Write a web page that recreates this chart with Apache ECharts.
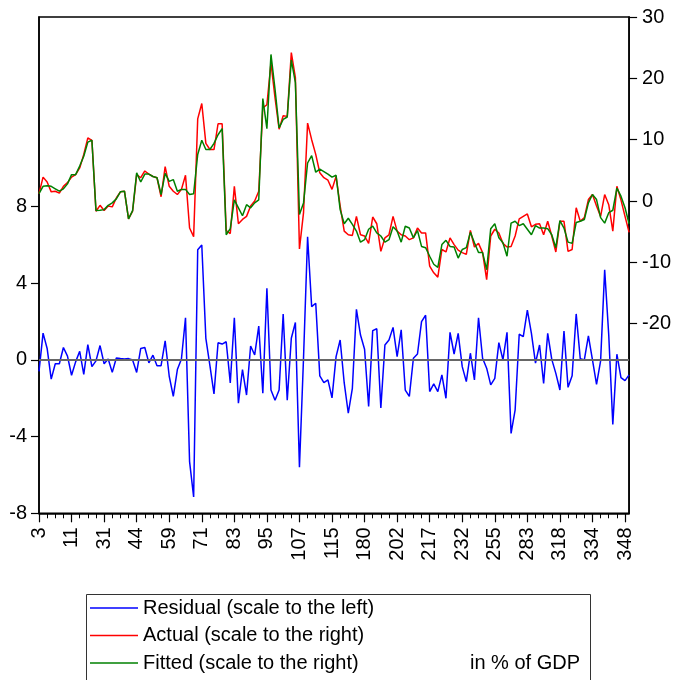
<!DOCTYPE html>
<html>
<head>
<meta charset="utf-8">
<script src="https://cdn.jsdelivr.net/npm/echarts@6/dist/echarts.min.js"></script>
<style>html,body{margin:0;padding:0;background:#fff}#c{width:674px;height:680px}</style>
</head>
<body>
<div id="c"></div>
<script>
const tickLabels = ['3','11','31','44','59','71','83','95','107','115','180','202','217','232','255','283','318','334','348'];

const residual = [
-0.6,1.4,0.6,-1.0,-0.2,-0.2,0.65,0.2,-0.8,-0.1,
0.45,-0.75,0.8,-0.35,-0.05,0.75,-0.2,0.05,-0.65,0.1,
0.07,0.05,0.07,0,-0.65,0.6,0.65,-0.15,0.25,-0.3,
-0.3,1.0,-0.85,-1.9,-0.5,0.05,2.2,-5.3,-7.15,5.75,
6.0,1.13,-0.3,-1.77,0.9,0.83,0.95,-1.2,2.2,-2.26,
-0.5,-1.83,0.73,0.26,1.77,-1.74,3.74,-1.57,-2.1,-1.57,
2.4,-2.1,1.13,1.95,-5.6,0.1,6.43,2.78,2.96,-0.83,
-1.18,-1.04,-1.98,0.17,1.04,-1.2,-2.78,-1.48,2.64,1.3,
0.56,-2.43,1.53,1.63,-2.5,0.78,1.04,1.7,0.17,1.57,
-1.57,-1.9,0.09,0.31,2.0,2.33,-1.65,-1.25,-1.65,-0.78,
-2.0,1.44,0.31,1.39,-0.35,-1.13,0.35,-1.04,2.2,0.09,
-0.43,-1.3,-0.96,0.9,0,1.44,-3.83,-2.6,1.34,1.22,
2.6,1.39,-0.17,0.78,-1.22,1.39,0.03,-0.7,-1.57,1.51,
-1.43,-0.83,2.4,0.07,0,1.25,0,-1.27,-0.05,4.7,
1.3,-3.36,0.3,-0.92,-1.08,-0.78
];

const actual = [
1.2,3.9,3.1,1.5,1.6,1.3,2.4,3.0,3.9,4.3,
5.4,7.6,10.3,9.9,-1.66,-0.7,-1.55,-0.8,-0.95,0.5,
1.5,1.6,-2.9,-1.66,4.3,3.8,4.9,4.4,4.0,3.8,
0.7,5.6,2.4,1.6,1.06,1.9,4.2,-4.4,-5.8,13.4,
15.9,9.4,8.4,8.4,12.6,12.6,-4.8,-5.3,2.4,-3.7,
-3.0,-2.5,-0.8,0,1.6,15.2,15.7,22.5,16.8,11.7,
13.9,13.8,24.2,20.1,-7.8,-1.9,12.7,10.0,7.6,4.6,
3.8,3.4,1.9,4.0,-0.8,-4.9,-5.5,-5.6,-2.5,-5.5,
-5.7,-6.9,-2.6,-3.7,-8.2,-6.0,-5.5,-2.5,-4.9,-5.5,
-5.7,-6.3,-6.0,-4.4,-5.2,-5.2,-10.6,-11.7,-12.4,-7.9,
-8.3,-6.0,-7.1,-8.0,-8.4,-8.7,-4.8,-7.5,-6.9,-8.4,
-12.8,-5.7,-4.6,-5.2,-6.9,-7.5,-7.4,-5.7,-2.9,-2.5,
-2.1,-4.2,-3.8,-3.7,-5.5,-3.3,-5.7,-8.3,-3.3,-3.3,
-8.2,-7.9,-1.1,-3.3,-2.7,0.24,1.06,-0.8,-2.5,1.06,
-0.6,-4.9,2.4,0.2,-2.5,-5.1
];

const fitted = [
1.2,2.4,2.5,2.4,2.0,1.6,2.0,2.8,4.3,4.3,
5.7,7.3,9.6,9.9,-1.55,-1.5,-1.4,-0.7,-0.3,0.35,
1.5,1.6,-2.9,-1.55,4.6,3.1,4.4,4.4,4.0,3.8,
1.06,4.5,3.2,3.5,1.6,1.9,1.9,1.06,1.2,7.6,
9.9,8.4,8.4,9.4,10.8,11.8,-5.5,-4.5,0.2,-1.1,
-2.4,-0.6,-1.1,-0.3,0.2,16.7,11.8,23.9,18.2,11.9,
13.3,13.7,23.0,19.3,-2.2,-0.3,6.2,7.4,4.7,5.2,
4.8,4.4,3.9,4.2,-1.4,-3.7,-2.8,-3.8,-4.9,-6.7,
-6.3,-4.6,-4.1,-5.2,-5.7,-6.7,-6.3,-4.2,-4.9,-6.7,
-4.1,-4.4,-6.0,-4.8,-7.4,-7.6,-9.0,-10.3,-10.8,-7.1,
-6.4,-7.4,-7.5,-9.3,-7.9,-7.6,-5.1,-6.8,-8.4,-8.4,
-11.2,-4.5,-3.7,-6.0,-6.8,-9.0,-3.6,-3.3,-4.0,-3.7,
-4.6,-5.5,-4.0,-4.4,-4.4,-4.5,-5.5,-7.6,-3.2,-4.4,
-6.7,-6.9,-3.5,-3.3,-3.0,-0.3,1.06,0.24,-2.7,-3.6,
-1.9,-1.5,2.1,0.8,-1.1,-3.7
];

const leftTicks = [-8,-4,0,4,8];
const rightTicks = [-20,-10,0,10,20,30];
const seriesNames = ['Residual (scale to the left)','Actual (scale to the right)','Fitted (scale to the right)'];
const unitNote = 'in % of GDP';

const LABEL_STEP = 8;
const categories = residual.map((v, i) => (i % LABEL_STEP === 0 && tickLabels[i / LABEL_STEP] !== undefined) ? tickLabels[i / LABEL_STEP] : ('obs' + i));

const FONT = "'Liberation Sans', Arial, Helvetica, sans-serif";
const chart = echarts.init(document.getElementById('c'), null, {renderer: 'canvas'});
chart.setOption({
  animation: false,
  backgroundColor: '#fff',
  textStyle: {fontFamily: FONT},
  grid: {left: 39, right: 44.5, top: 17, bottom: 166.7, show: true, borderColor: '#000', borderWidth: 1.5, containLabel: false},
  legend: {
    orient: 'vertical', left: 90, top: 598, padding: 0,
    itemWidth: 48, itemHeight: 1.5, itemGap: 7.5,
    icon: 'rect',
    textStyle: {fontSize: 20, fontFamily: FONT, color: '#000'},
    data: seriesNames
  },
  graphic: [
    {type: 'rect', left: 84, top: 592, shape: {width: 504, height: 110}, style: {fill: 'none', stroke: '#333', lineWidth: 1}, silent: true},
    {type: 'text', left: 470, top: 653, style: {text: unitNote, font: "20px 'Liberation Sans', Arial, sans-serif", fill: '#000'}, silent: true}
  ],
  xAxis: [
    {
      type: 'category', data: categories, boundaryGap: false, position: 'bottom',
      axisLine: {show: true, onZero: false, lineStyle: {color: '#000', width: 1.5}},
      axisTick: {show: true, inside: false, length: 5, interval: (i) => i % 2 === 0, lineStyle: {color: '#000', width: 1}},
      axisLabel: {interval: (i) => i % LABEL_STEP === 0, rotate: 90, margin: 14, fontSize: 20, fontFamily: FONT, color: '#000'},
      splitLine: {show: false}
    },
    {
      type: 'category', data: categories, boundaryGap: false, position: 'bottom',
      axisLine: {show: false, onZero: false},
      axisTick: {show: true, length: 9, interval: (i) => i % LABEL_STEP === 0, lineStyle: {color: '#000', width: 1.2}},
      axisLabel: {show: false},
      splitLine: {show: false}
    }
  ],
  yAxis: [
    {
      type: 'value', position: 'left', min: -8, max: 17.89,
      axisLine: {show: true, onZero: false, lineStyle: {color: '#000', width: 1.5}},
      axisTick: {show: true, length: 8, customValues: leftTicks, lineStyle: {color: '#000', width: 1.2}},
      axisLabel: {customValues: leftTicks, margin: 12, fontSize: 20, fontFamily: FONT, color: '#000'},
      splitLine: {show: false}
    },
    {
      type: 'value', position: 'right', min: -50.9, max: 30,
      axisLine: {show: true, onZero: false, lineStyle: {color: '#000', width: 1.5}},
      axisTick: {show: true, length: 8, customValues: rightTicks, lineStyle: {color: '#000', width: 1.2}},
      axisLabel: {customValues: rightTicks, margin: 13, fontSize: 20, fontFamily: FONT, color: '#000'},
      splitLine: {show: false}
    }
  ],
  series: [
    {
      name: seriesNames[0], type: 'line', xAxisIndex: 0, yAxisIndex: 0, data: residual,
      symbol: 'none', lineStyle: {color: '#0000FF', width: 1.5}, itemStyle: {color: '#0000FF'},
      markLine: {silent: true, symbol: 'none', label: {show: false}, lineStyle: {color: '#666', width: 2, type: 'solid'}, data: [{yAxis: 0}]},
      z: 3
    },
    {
      name: seriesNames[1], type: 'line', xAxisIndex: 0, yAxisIndex: 1, data: actual,
      symbol: 'none', lineStyle: {color: '#FF0000', width: 1.5}, itemStyle: {color: '#FF0000'}, z: 4
    },
    {
      name: seriesNames[2], type: 'line', xAxisIndex: 0, yAxisIndex: 1, data: fitted,
      symbol: 'none', lineStyle: {color: '#008000', width: 1.5}, itemStyle: {color: '#008000'}, z: 5
    }
  ]
});
</script>
</body>
</html>
